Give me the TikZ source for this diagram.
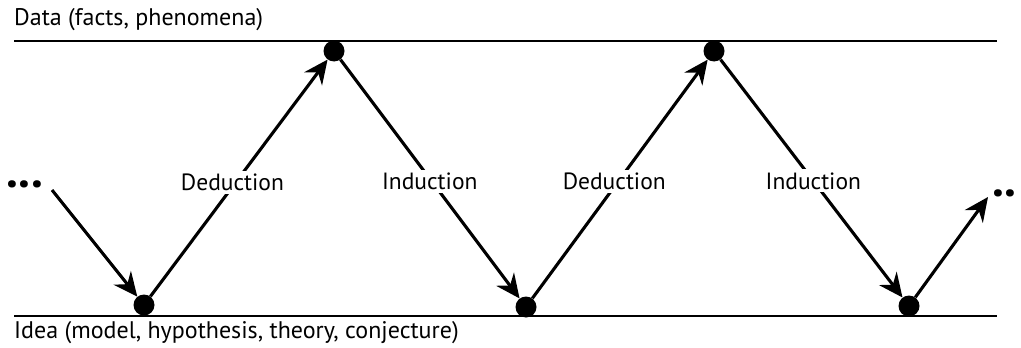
\documentclass[tikz,border=0pt]{standalone}
\usepackage{fontspec}
\setmainfont{PT Sans}
\usetikzlibrary{arrows.meta}
\begin{document}
\begin{tikzpicture}[x=1pt,y=-1pt,
  dotnode/.style={circle,fill=black,inner sep=0pt,minimum size=21pt},
  arr/.style={line width=3.1pt,-{Stealth[length=24pt,width=22pt,inset=8pt]}},
  lbl/.style={fill=white,inner sep=3pt,font=\fontsize{23.5}{26}\selectfont},
  captext/.style={anchor=west,inner sep=0pt,font=\fontsize{24}{26}\selectfont},
  hline/.style={line width=2.8pt}]
\useasboundingbox (0,0) rectangle (1021,348);
% base lines
\coordinate (tl) at (14,41);
\coordinate (tr) at (997,41);
\coordinate (bl) at (14,316);
\coordinate (br) at (997,316);
\draw[hline] (tl) -- (tr);
\draw[hline] (bl) -- (br);
\node[captext] (data) at (14,20) {Data (facts, phenomena)};
\node[captext] (idea) at (14,333) {Idea (model, hypothesis, theory, conjecture)};
% dots
\node[dotnode] (d1) at (334,51) {};
\node[dotnode] (d2) at (714,51) {};
\node[dotnode] (i1) at (144,305) {};
\node[dotnode] (i2) at (526,307) {};
\node[dotnode] (i3) at (909,306) {};
% ellipses
\node[inner sep=0pt,anchor=west,font=\fontsize{48}{48}\bfseries] (ldots) at (6,184) {...};
\node[inner sep=0pt,anchor=west,font=\fontsize{48}{48}\bfseries] (rdots) at (992,193) {..};
\coordinate (start) at (52,190);
\coordinate (endc) at (988,197);
% arrows
\draw[arr] (start) -- (i1);
\draw[arr] (i1) -- (d1) node[lbl,pos=0.48,xshift=-3pt] (l1) {Deduction};
\draw[arr] (d1) -- (i2) node[lbl,pos=0.51,xshift=-2pt] (l2) {Induction};
\draw[arr] (i2) -- (d2) node[lbl,pos=0.49,xshift=-4pt] (l3) {Deduction};
\draw[arr] (d2) -- (i3) node[lbl,pos=0.51] (l4) {Induction};
\draw[arr] (i3) -- (endc);
\end{tikzpicture}
\end{document}
